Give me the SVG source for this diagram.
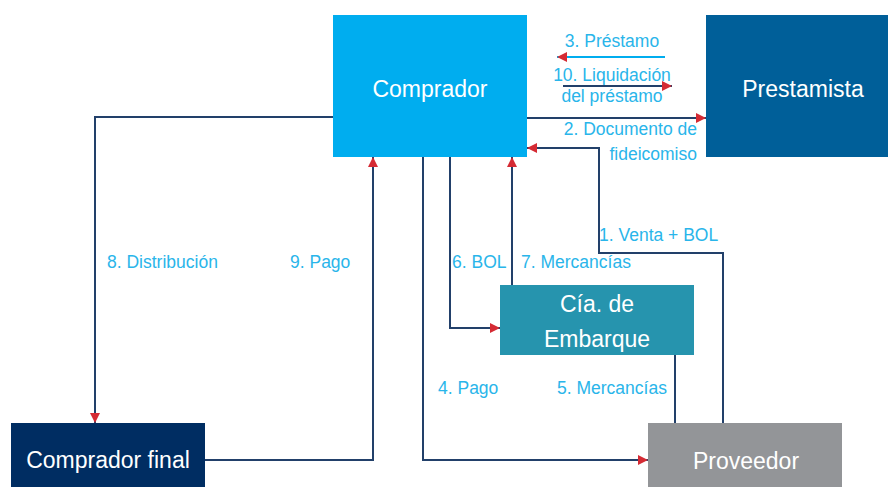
<svg xmlns="http://www.w3.org/2000/svg" width="888" height="487" viewBox="0 0 888 487">
<style>
.node text{font-family:"Liberation Sans","Open Sans",sans-serif;font-size:23px;fill:#fff;text-anchor:middle}
.lbl{font-family:"Liberation Sans","Open Sans",sans-serif;font-size:17.5px;fill:#29B5EA}
.ln{fill:none;stroke:#22406A;stroke-width:2}
</style>
<defs>
<marker id="ah" viewBox="0 0 10 10" refX="10" refY="5" markerWidth="11" markerHeight="10" markerUnits="userSpaceOnUse" orient="auto">
<path d="M0,0 L10,5 L0,10 z" fill="#D52B34"/>
</marker>
</defs>
<rect width="888" height="487" fill="#fff"/>
<g id="connectors">
<path class="ln" d="M333,117 H95 V423" marker-end="url(#ah)"/>
<path class="ln" d="M205,460 H373 V157" marker-end="url(#ah)"/>
<path class="ln" d="M423,157 V460 H648" marker-end="url(#ah)"/>
<path class="ln" d="M450,157 V328 H500" marker-end="url(#ah)"/>
<path class="ln" d="M512,285 V157" marker-end="url(#ah)"/>
<path class="ln" d="M675,423 V355"/>
<path class="ln" d="M723,423 V253 H599 V148 H527" stroke="#3E5C80" marker-end="url(#ah)"/>
<path class="ln" d="M527,118 H706" marker-end="url(#ah)"/>
<path d="M665,57 H557" fill="none" stroke="#00ADEF" stroke-width="2" marker-end="url(#ah)"/>
<path class="ln" d="M563,86 H672" marker-end="url(#ah)"/>
<text class="lbl" x="612" y="47" text-anchor="middle">3. Préstamo</text>
<text class="lbl" x="612" y="81" text-anchor="middle">10. Liquidación</text>
<text class="lbl" x="612" y="102" text-anchor="middle">del préstamo</text>
<text class="lbl" x="697" y="135" text-anchor="end">2. Documento de</text>
<text class="lbl" x="697" y="160" text-anchor="end">fideicomiso</text>
<text class="lbl" x="599" y="241">1. Venta + BOL</text>
<text class="lbl" x="452" y="268">6. BOL</text>
<text class="lbl" x="521" y="268">7. Mercancías</text>
<text class="lbl" x="107" y="268">8. Distribución</text>
<text class="lbl" x="290" y="268">9. Pago</text>
<text class="lbl" x="438" y="394">4. Pago</text>
<text class="lbl" x="557" y="394">5. Mercancías</text>
</g>
<g id="comprador" class="node">
<rect x="333" y="15" width="194" height="142" fill="#00ADEF"/>
<text x="430" y="97">Comprador</text>
</g>
<g id="prestamista" class="node">
<rect x="706" y="15" width="182" height="142" fill="#005F99"/>
<text x="803" y="97">Prestamista</text>
</g>
<g id="cia" class="node">
<rect x="500" y="285" width="194" height="70" fill="#2694AE"/>
<text x="597" y="312">Cía. de</text>
<text x="597" y="347">Embarque</text>
</g>
<g id="comprador-final" class="node">
<rect x="11" y="423" width="194" height="64" fill="#002D62"/>
<text x="108" y="468">Comprador final</text>
</g>
<g id="proveedor" class="node">
<rect x="648" y="423" width="194" height="64" fill="#939598"/>
<text x="746" y="469">Proveedor</text>
</g>
</svg>
